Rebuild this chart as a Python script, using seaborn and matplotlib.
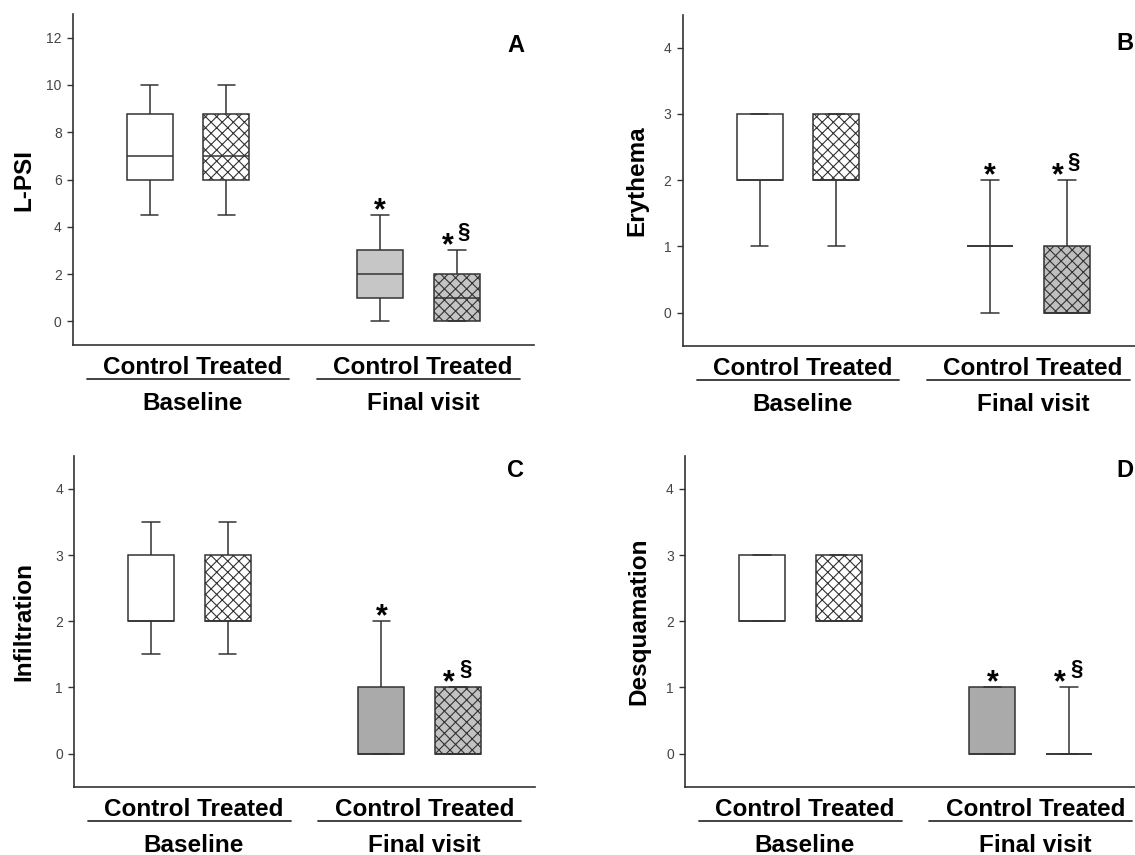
import matplotlib
matplotlib.use("Agg")
import matplotlib.pyplot as plt
import matplotlib.transforms as mtransforms
import seaborn as sns
import pandas as pd

# five-number summaries: min, Q1, median, Q3, max
visits = ["Baseline", "Final visit"]
groups = ["Control", "Treated"]

lpsi_base_ctrl = [4.5, 6, 7, 8.75, 10]
lpsi_base_trt = [4.5, 6, 7, 8.75, 10]
lpsi_final_ctrl = [0, 1, 2, 3, 4.5]
lpsi_final_trt = [0, 0, 1, 2, 3]

ery_base_ctrl = [1, 2, 2, 3, 3]
ery_base_trt = [1, 2, 2, 3, 3]
ery_final_ctrl = [0, 1, 1, 1, 2]
ery_final_trt = [0, 0, 0, 1, 2]

inf_base_ctrl = [1.5, 2, 2, 3, 3.5]
inf_base_trt = [1.5, 2, 2, 3, 3.5]
inf_final_ctrl = [0, 0, 0, 1, 2]
inf_final_trt = [0, 0, 0, 1, 1]

des_base_ctrl = [2, 2, 2, 3, 3]
des_base_trt = [2, 2, 2, 3, 3]
des_final_ctrl = [0, 0, 0, 1, 1]
des_final_trt = [0, 0, 0, 0, 1]

ylabels = ["L-PSI", "Erythema", "Infiltration", "Desquamation"]
letters = ["A", "B", "C", "D"]

sns.set_style("ticks")
plt.rcParams["font.family"] = ["Liberation Sans", "DejaVu Sans"]
plt.rcParams["hatch.linewidth"] = 0.8
plt.rcParams["text.color"] = "black"
plt.rcParams["axes.labelcolor"] = "black"

EDGE = "#333333"


def make_df(bc, bt, fc, ft):
    rows = []
    for visit, group, vals in [("Baseline", "Control", bc), ("Baseline", "Treated", bt),
                               ("Final visit", "Control", fc), ("Final visit", "Treated", ft)]:
        for v in vals:
            rows.append((visit, group, v))
    return pd.DataFrame(rows, columns=["visit", "group", "score"])


panels = [
    dict(rect=[0.0641, 0.5965, 0.4062, 0.3871], df=make_df(lpsi_base_ctrl, lpsi_base_trt, lpsi_final_ctrl, lpsi_final_trt),
         tops=(max(lpsi_final_ctrl), max(lpsi_final_trt)), ylim=(-1, 13), yticks=range(0, 13, 2),
         fills=["white", "white", "#c6c6c6", "#c4c4c4"], labx=-0.107, let=(0.942, 0.886)),
    dict(rect=[0.6015, 0.5957, 0.4062, 0.3871], df=make_df(ery_base_ctrl, ery_base_trt, ery_final_ctrl, ery_final_trt),
         tops=(max(ery_final_ctrl), max(ery_final_trt)), ylim=(-0.5, 4.5), yticks=range(0, 5),
         fills=["white", "white", "#bdbdbd", "#bfbfbf"], labx=-0.100, let=(0.941, 0.893)),
    dict(rect=[0.0652, 0.0799, 0.4062, 0.3871], df=make_df(inf_base_ctrl, inf_base_trt, inf_final_ctrl, inf_final_trt),
         tops=(max(inf_final_ctrl), max(inf_final_trt)), ylim=(-0.5, 4.5), yticks=range(0, 5),
         fills=["white", "white", "#aaaaaa", "#c2c2c2"], labx=-0.108, let=(0.939, 0.937)),
    dict(rect=[0.6035, 0.0799, 0.4062, 0.3871], df=make_df(des_base_ctrl, des_base_trt, des_final_ctrl, des_final_trt),
         tops=(max(des_final_ctrl), max(des_final_trt)), ylim=(-0.5, 4.5), yticks=range(0, 5),
         fills=["white", "white", "#aaaaaa", "#c2c2c2"], labx=-0.101, let=(0.936, 0.937)),
]

fig = plt.figure(figsize=(11.35, 8.55), dpi=100)

for k, p in enumerate(panels):
    ax = fig.add_axes(p["rect"])
    sns.boxplot(data=p["df"], x="visit", y="score", hue="group", order=visits, hue_order=groups,
                palette=["white", "white"], saturation=1, width=0.666, gap=0.4, whis=(0, 100),
                linecolor=EDGE, linewidth=1.1, showfliers=False, legend=False, ax=ax,
                capwidths=0.076)

    # restyle boxes left to right: fills and cross hatch for treated
    boxes = sorted(ax.patches, key=lambda b: b.get_path().vertices[:, 0].mean())
    for b, fc, h in zip(boxes, p["fills"], [None, "xxx", None, "xxx"]):
        b.set_facecolor(fc)
        b.set_edgecolor(EDGE)
        if h:
            b.set_hatch(h)

    ax.set_xlim(-0.5, 1.5)
    ax.set_ylim(*p["ylim"])
    ax.set_yticks(list(p["yticks"]))
    ax.set_xticks([])
    ax.set_xlabel("")
    sns.despine(ax=ax)
    for s in ["left", "bottom"]:
        ax.spines[s].set_linewidth(1.2)
        ax.spines[s].set_color("#333333")
    ax.tick_params(axis="y", length=4, width=1, color="#333333", labelsize=10,
                   labelcolor="#444444", pad=4)
    ax.set_ylabel(ylabels[k], fontsize=17.5, fontweight="bold", va="center")
    ax.yaxis.set_label_coords(p["labx"], 0.5)

    ax.text(p["let"][0], p["let"][1], letters[k], transform=ax.transAxes, ha="left",
            va="baseline", fontsize=17, fontweight="bold")

    # group labels under the axis
    base = mtransforms.blended_transform_factory(ax.transData, ax.transAxes)
    t_ct = mtransforms.offset_copy(base, fig=fig, y=-29, units="dots")
    t_ln = mtransforms.offset_copy(base, fig=fig, y=-34.5, units="dots")
    t_vs = mtransforms.offset_copy(base, fig=fig, y=-65, units="dots")
    for i, v in enumerate(visits):
        ax.text(i + 0.02, 0, "Control Treated", transform=t_ct, ha="center", va="baseline",
                fontsize=17.5, fontweight="bold", clip_on=False)
        ax.plot([i - 0.44, i + 0.44], [0, 0], transform=t_ln, color="#333333", lw=1.3,
                clip_on=False)
        ax.text(i + 0.02, 0, v, transform=t_vs, ha="center", va="baseline",
                fontsize=17.5, fontweight="bold", clip_on=False)

    # significance marks
    top_c, top_t = p["tops"]
    ax.annotate("*", xy=(1 - 0.1665, top_c), xytext=(0, -4), textcoords="offset pixels",
                ha="center", va="baseline", fontsize=22, fontweight="bold")
    ax.annotate("*", xy=(1 + 0.1665, top_t), xytext=(-9, -4), textcoords="offset pixels",
                ha="center", va="baseline", fontsize=22, fontweight="bold")
    ax.annotate("§", xy=(1 + 0.1665, top_t), xytext=(7, 12), textcoords="offset pixels",
                ha="center", va="baseline", fontsize=16, fontweight="bold")

fig.savefig("out.png", dpi=100)
